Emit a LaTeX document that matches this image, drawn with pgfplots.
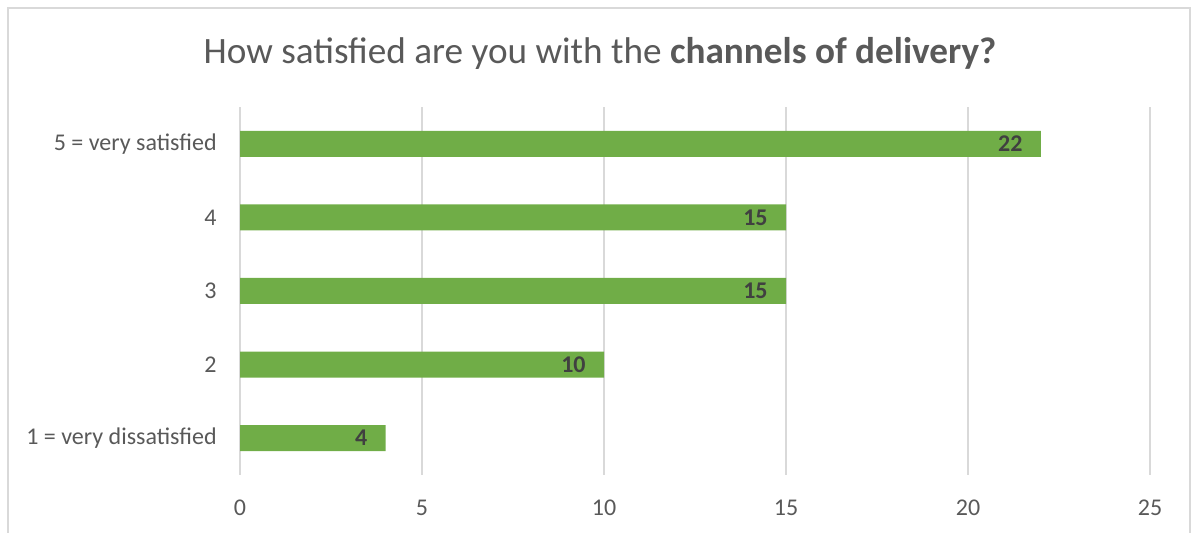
\documentclass[border=0pt]{standalone}
\usepackage{fontspec}
\setmainfont{Carlito}
\usepackage{pgfplots}
\pgfplotsset{compat=1.18}
\definecolor{bargreen}{HTML}{70AD47}
\definecolor{gridgray}{HTML}{D9D9D9}
\definecolor{txtgray}{HTML}{595959}
\definecolor{lblgray}{HTML}{404040}
\begin{document}
\begin{tikzpicture}[x=0.5pt,y=0.5pt]
\useasboundingbox (0,0) rectangle (1197,533);
\draw[gridgray, line width=0.9pt] (8,0) -- (8,525) -- (1190,525) -- (1190,0);
\node[txtgray, font=\fontsize{18.6pt}{22pt}\selectfont, inner sep=0pt] at (600,480) {How satisfied are you with the \textbf{channels of delivery?}};
\coordinate (A) at (240,58);
\begin{axis}[
  at={(A)}, anchor=south west,
  scale only axis, width=455pt, height=184pt,
  xmin=0, xmax=25, ymin=0.5, ymax=5.5,
  xbar, bar width=13pt,
  axis line style={draw=none},
  major tick length=0pt,
  xtick={0,5,10,15,20,25},
  ytick={1,2,3,4,5},
  yticklabels={1 = very dissatisfied, 2, 3, 4, 5 = very satisfied},
  xmajorgrids, major grid style={gridgray, line width=0.8pt},
  /pgf/number format/assume math mode=true,
  ticklabel style={font=\fontsize{12pt}{14pt}\selectfont, text=txtgray},
  xticklabel style={inner sep=0pt, anchor=north, yshift=-12.5pt},
  yticklabel style={inner sep=0pt, anchor=east, xshift=-11.5pt},
  nodes near coords,
  nodes near coords style={anchor=east, xshift=-9pt, inner sep=0pt, text=lblgray, font=\fontsize{12pt}{14pt}\selectfont\bfseries, /pgf/number format/assume math mode=true},
  clip=false,
]
\addplot[fill=bargreen, draw=none] coordinates {(4,1) (10,2) (15,3) (15,4) (22,5)};
\end{axis}
\end{tikzpicture}
\end{document}
